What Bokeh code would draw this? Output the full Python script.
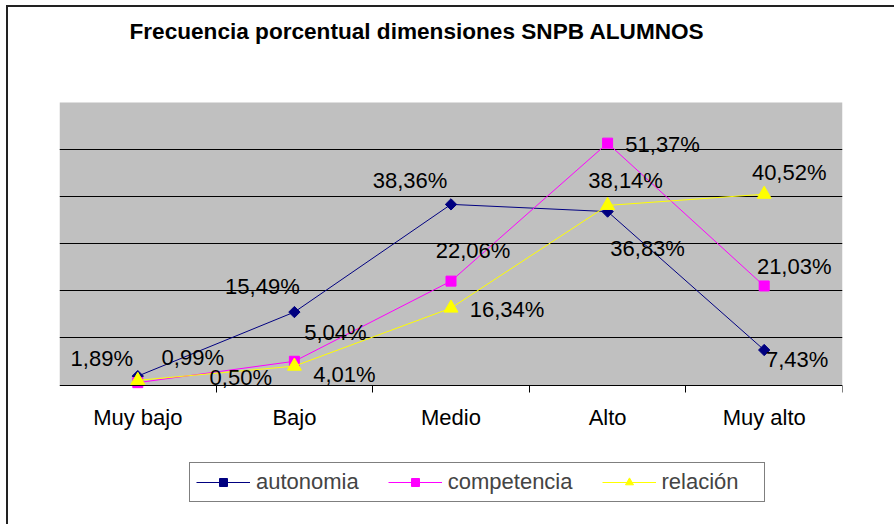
import math
from bokeh.plotting import figure
from bokeh.models import (ColumnDataSource, FixedTicker, Range1d, Legend, LegendItem,
                          BoxAnnotation, Label)
from bokeh.core.properties import value
from bokeh.embed import file_html
from bokeh.resources import INLINE

# ---- data ----
categories = ["Muy bajo", "Bajo", "Medio", "Alto", "Muy alto"]
autonomia = [1.89, 15.49, 38.36, 36.83, 7.43]
competencia = [0.50, 5.04, 22.06, 51.37, 21.03]
relacion = [0.99, 4.01, 16.34, 38.14, 40.52]
series_names = ["autonomia", "competencia", "relación"]
title_text = "Frecuencia porcentual dimensiones SNPB ALUMNOS"
y_max = 60
grid_values = [10, 20, 30, 40, 50]

# ---- styles / layout ----
colors = ["#000080", "#FF00FF", "#FFFF00"]
offsets = [
    [(-36, -18), (-32, -26), (-41, -24), (40, 37), (33, 9)],
    [(103, -5), (41, -29), (22, -31), (55, 1), (30, -19)],
    [(55, -23), (50, 8), (56, 1), (18, -25), (25, -22)],
]
FONT = "Liberation Sans"
W, H = 888, 519
PLOT_TOP = 95           # px from canvas top to the top of the grey plot area
PLOT_H = 282.5          # height in px of the grey plot area (0..60)
TITLE_Y = 24            # px from canvas top to the title's centre
px_per_unit = PLOT_H / y_max
y_top = y_max + PLOT_TOP / px_per_unit
y_min = -(H - PLOT_TOP - PLOT_H) / px_per_unit

xs = list(range(len(categories)))
x_start, x_end = -0.5, len(categories) - 0.5

p = figure(width=W, height=H, output_backend="svg", toolbar_location=None,
           x_range=Range1d(x_start, x_end), y_range=Range1d(y_min, y_top),
           min_border_left=51, min_border_right=54, min_border_top=0,
           min_border_bottom=0)
p.styles = {"margin-left": "6px", "margin-top": "5px",
            "border-left": "2px solid #222", "border-top": "2px solid #222"}
p.border_fill_color = "white"
p.background_fill_color = "white"
p.outline_line_color = None

plot_area = BoxAnnotation(bottom=0, top=y_max, fill_color="#C0C0C0", fill_alpha=1,
                          line_color=None, level="image")
p.add_layout(plot_area)

title = Label(x=x_start, y=y_max + (PLOT_TOP - TITLE_Y) / px_per_unit, x_offset=70,
              text=title_text, text_align="left", text_baseline="middle",
              text_font=FONT, text_font_size="22.6px", text_font_style="bold",
              text_color="black")
p.add_layout(title)

p.yaxis.visible = False
p.xgrid.visible = False
p.ygrid.ticker = FixedTicker(ticks=grid_values)
p.ygrid.grid_line_color = "black"
p.ygrid.grid_line_width = 1

ax = p.xaxis[0]
ax.fixed_location = 0
ax.ticker = FixedTicker(ticks=xs, minor_ticks=[i + 0.5 for i in xs])
ax.major_label_overrides = {i: c for i, c in enumerate(categories)}
ax.major_tick_line_color = None
ax.minor_tick_line_color = "black"
ax.minor_tick_out = 7
ax.minor_tick_in = 0
ax.axis_line_color = "black"
ax.major_label_text_font = FONT
ax.major_label_text_font_size = "22px"
ax.major_label_text_color = "black"
ax.major_label_standoff = 13

markers = [("square", math.pi / 4, 8), ("square", 0, 10), ("triangle", 0, 14)]
data_series = [autonomia, competencia, relacion]
items = []
for name, vals, col, (mk, ang, sz) in zip(series_names, data_series, colors, markers):
    src = ColumnDataSource(dict(x=xs, y=vals))
    r1 = p.line("x", "y", source=src, line_color=col, line_width=1)
    r2 = p.scatter("x", "y", source=src, marker=mk, angle=ang, size=sz,
                   fill_color=col, line_color=col)
    items.append(LegendItem(label=name, renderers=[r1, r2]))

for vals, offs in zip(data_series, offsets):
    src = ColumnDataSource(dict(
        x=xs, y=vals,
        t=[f"{v:.2f}".replace(".", ",") + "%" for v in vals],
        dx=[o[0] for o in offs], dy=[o[1] for o in offs]))
    p.text("x", "y", text="t", source=src, x_offset="dx", y_offset="dy",
           text_align="center", text_baseline="middle",
           text_font=value(FONT), text_font_size="22px", text_color="black")

legend = Legend(items=items, orientation="horizontal", location=(130, 24),
                label_text_font=FONT, label_text_font_size="22px",
                glyph_width=54, glyph_height=20, label_standoff=6, spacing=29,
                label_width=96, padding=6, margin=0, border_line_color="black",
                border_line_width=1, background_fill_color="white",
                background_fill_alpha=1)
p.add_layout(legend, "center")

open("out.html", "w").write(file_html(p, INLINE))
